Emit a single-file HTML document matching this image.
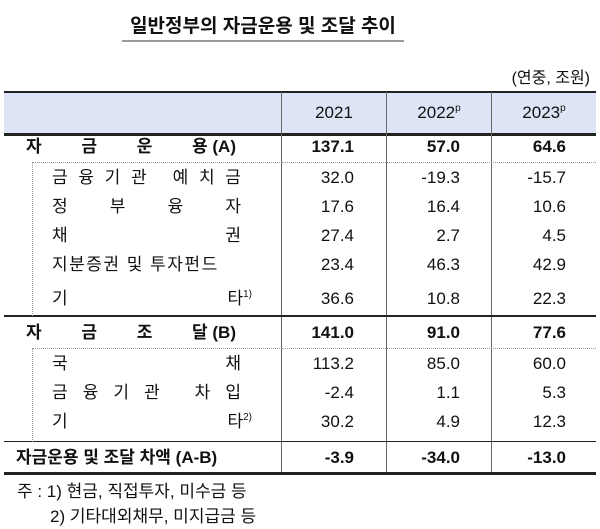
<!DOCTYPE html>
<html><head><meta charset="utf-8"><style>
body{margin:0;width:600px;height:526px;background:#fff;position:relative;font-family:"Liberation Sans","Noto Sans CJK KR",sans-serif;color:#111;overflow:hidden}
.a{position:absolute}
.t{left:122px;top:13px;width:282px;text-align:center;font-size:19px;font-weight:bold;border-bottom:2px solid #999;line-height:27px;white-space:nowrap}
.lab{position:absolute;display:flex;justify-content:space-between;font-size:17px;line-height:29px}
.n{position:absolute;font-size:17px;line-height:29px;text-align:right}
.b{font-weight:bold}
sup{font-size:10px;line-height:0;vertical-align:0;position:relative;top:-7px}
</style></head><body>
<div class="a t">일반정부의 자금운용 및 조달 추이</div>
<div class="a" style="right:10px;top:64px;font-size:16px">(연중, 조원)</div>
<div class="a" style="left:4px;top:91px;width:592px;height:40px;background:#dde4f5;border-top:2px solid #222;border-bottom:3px solid #222"></div>
<div class="a" style="left:281px;top:92px;width:1px;height:381px;background:#666"></div>
<div class="a" style="left:386px;top:92px;width:1px;height:381px;background:#666"></div>
<div class="a" style="left:491px;top:92px;width:1px;height:381px;background:#666"></div>
<div class="a" style="left:4px;top:315px;width:592px;height:2px;background:#222"></div>
<div class="a" style="left:4px;top:441px;width:592px;height:1px;background:#222"></div>
<div class="a" style="left:4px;top:472px;width:592px;height:3px;background:#222"></div>
<div class="a" style="left:32px;top:162px;width:249px;height:153px;border-top:1px dotted #999;border-left:1px dotted #999"></div>
<div class="a" style="left:282px;top:162px;width:314px;border-top:1px dotted #999"></div>
<div class="a" style="left:32px;top:348px;width:249px;height:93px;border-top:1px dotted #999;border-left:1px dotted #999"></div>
<div class="a" style="left:282px;top:348px;width:314px;border-top:1px dotted #999"></div>
<div class="n" style="left:282px;width:104px;top:98px;text-align:center">2021</div>
<div class="n" style="left:387px;width:104px;top:98px;text-align:center">2022<sup>p</sup></div>
<div class="n" style="left:492px;width:104px;top:98px;text-align:center">2023<sup>p</sup></div>
<div class="lab b" style="left:26px;width:210px;top:132px"><span>자</span><span>금</span><span>운</span><span>용 (A)</span></div>
<div class="lab" style="left:52px;width:189px;top:163px"><span>금</span><span>융</span><span>기</span><span>관</span><span>&nbsp;</span><span>예</span><span>치</span><span>금</span></div>
<div class="lab" style="left:52px;width:189px;top:192px"><span>정</span><span>부</span><span>융</span><span>자</span></div>
<div class="lab" style="left:52px;width:189px;top:221px"><span>채</span><span>권</span></div>
<div class="lab" style="left:52px;width:189px;top:250px;justify-content:flex-start;letter-spacing:1.5px"><span>지분증권 및 투자펀드</span></div>
<div class="lab" style="left:52px;width:200px;top:284px"><span>기</span><span>타<sup>1)</sup></span></div>
<div class="lab b" style="left:26px;width:210px;top:318px"><span>자</span><span>금</span><span>조</span><span>달 (B)</span></div>
<div class="lab" style="left:52px;width:189px;top:349px"><span>국</span><span>채</span></div>
<div class="lab" style="left:52px;width:189px;top:378px"><span>금</span><span>융</span><span>기</span><span>관</span><span>&nbsp;</span><span>차</span><span>입</span></div>
<div class="lab" style="left:52px;width:200px;top:407px"><span>기</span><span>타<sup>2)</sup></span></div>
<div class="lab b" style="left:16px;width:262px;top:443px;justify-content:flex-start">자금운용 및 조달 차액 (A-B)</div>
<div class="n b" style="left:282px;width:72px;top:132px">137.1</div>
<div class="n b" style="left:387px;width:73px;top:132px">57.0</div>
<div class="n b" style="left:492px;width:74px;top:132px">64.6</div>
<div class="n" style="left:282px;width:72px;top:163px">32.0<br>17.6<br>27.4<br>23.4</div>
<div class="n" style="left:387px;width:73px;top:163px">-19.3<br>16.4<br>2.7<br>46.3</div>
<div class="n" style="left:492px;width:74px;top:163px">-15.7<br>10.6<br>4.5<br>42.9</div>
<div class="n" style="left:282px;width:72px;top:284px">36.6</div>
<div class="n" style="left:387px;width:73px;top:284px">10.8</div>
<div class="n" style="left:492px;width:74px;top:284px">22.3</div>
<div class="n b" style="left:282px;width:72px;top:318px">141.0</div>
<div class="n b" style="left:387px;width:73px;top:318px">91.0</div>
<div class="n b" style="left:492px;width:74px;top:318px">77.6</div>
<div class="n" style="left:282px;width:72px;top:349px">113.2<br>-2.4<br>30.2</div>
<div class="n" style="left:387px;width:73px;top:349px">85.0<br>1.1<br>4.9</div>
<div class="n" style="left:492px;width:74px;top:349px">60.0<br>5.3<br>12.3</div>
<div class="n b" style="left:282px;width:72px;top:443px">-3.9</div>
<div class="n b" style="left:387px;width:73px;top:443px">-34.0</div>
<div class="n b" style="left:492px;width:74px;top:443px">-13.0</div>
<div class="a" style="left:17px;top:479px;font-size:17px;line-height:25px;white-space:pre">주 : 1) 현금, 직접투자, 미수금 등
       2) 기타대외채무, 미지급금 등</div>
</body></html>
